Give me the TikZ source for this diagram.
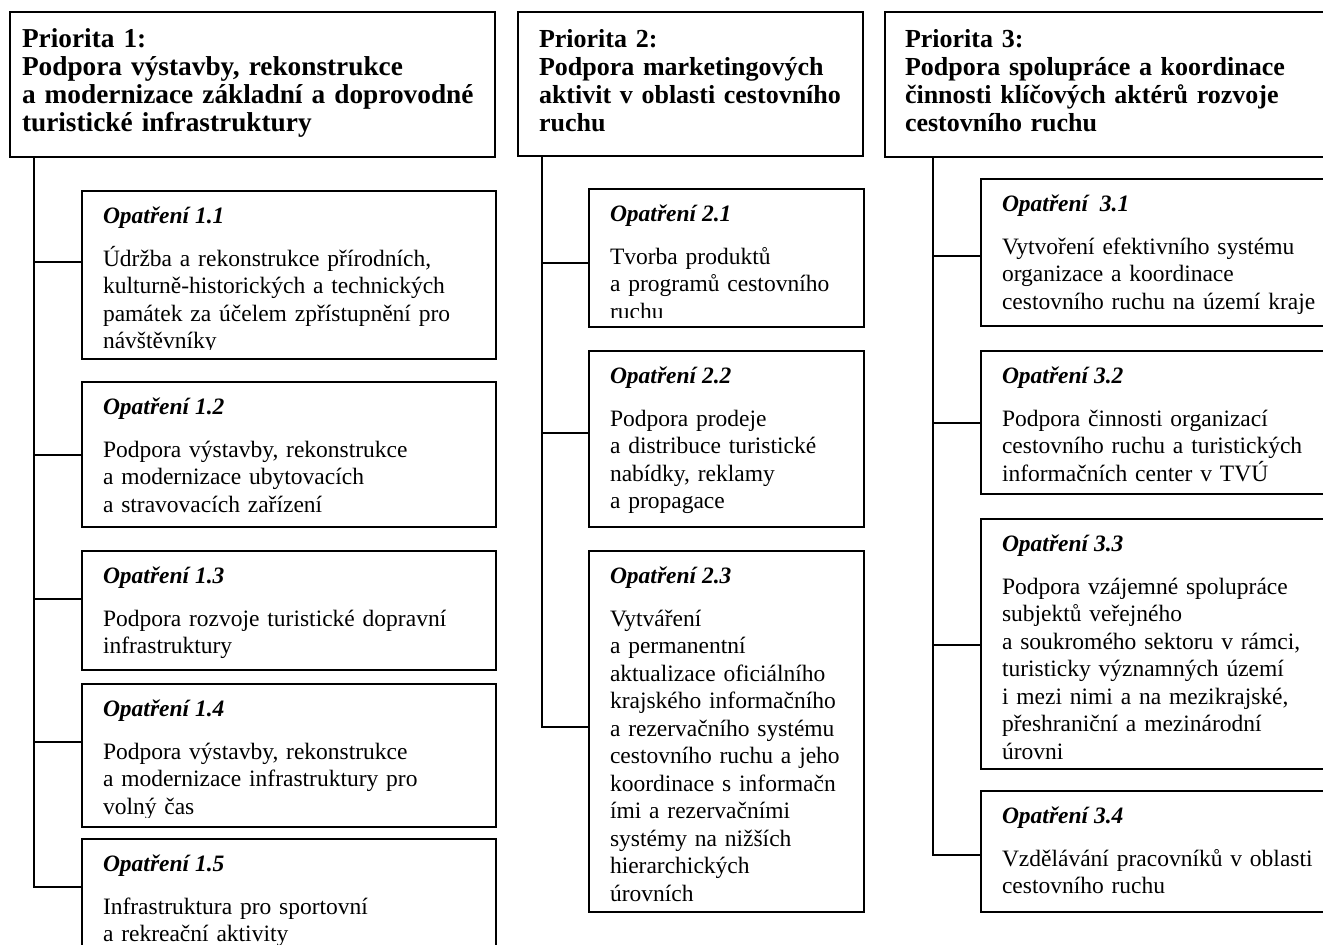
\documentclass[tikz,border=0pt]{standalone}
\usepackage{fontspec}
\setmainfont{Liberation Serif}
\begin{document}
\begin{tikzpicture}[x=1pt,y=-1pt, line width=1.5pt,
  every node/.style={inner sep=0pt, outer sep=0pt},
  box/.style={draw, line width=1.6pt, rectangle, anchor=north west},
  ptitle/.style={anchor=base west, align=left, text width=470pt,
    font=\fontsize{26}{28.3}\selectfont\bfseries},
  mhead/.style={draw=none, minimum width=0pt, minimum height=0pt, anchor=base west,
    font=\fontsize{23.5}{27.5}\selectfont\bfseries\itshape},
  mbody/.style={draw=none, minimum width=0pt, minimum height=0pt, anchor=base west,
    align=left, text width=400pt, font=\fontsize{23.5}{27.5}\selectfont},
  mbox/.style 2 args={box, path picture={
    \clip (path picture bounding box.north west) rectangle ([yshift=10pt]path picture bounding box.south east);
    \node[mhead] at ([shift={(21,32)}]path picture bounding box.north west) {#1};
    \node[mbody] at ([shift={(21,75)}]path picture bounding box.north west) {#2};}}]

\useasboundingbox (0,0) rectangle (1323,945);

% Priorities
\node[box, minimum width=485, minimum height=145] (p1) at (10,12) {};
\node[box, minimum width=345, minimum height=144] (p2) at (518,12) {};
\node[box, minimum width=460, minimum height=145] (p3) at (885,12) {};
\node[ptitle, font=\fontsize{27.3}{28.3}\selectfont\bfseries] (p1t) at ([shift={(12,35)}]p1.north west) {Priorita 1:\\Podpora výstavby, rekonstrukce\\a modernizace základní a doprovodné\\turistické infrastruktury};
\node[ptitle] (p2t) at ([shift={(21,35)}]p2.north west) {Priorita 2:\\Podpora marketingových\\aktivit v oblasti cestovního\\ruchu};
\node[ptitle] (p3t) at ([shift={(20,35)}]p3.north west) {Priorita 3:\\Podpora spolupráce a koordinace\\činnosti klíčových aktérů rozvoje\\cestovního ruchu};

% Column 1
\node[mbox={Opatření 1.1}{Údržba a rekonstrukce přírodních,\\kulturně-historických a technických\\památek za účelem zpřístupnění pro\\návštěvníky},
  minimum width=414, minimum height=168] (m11) at (82,191) {};
\node[mbox={Opatření 1.2}{Podpora výstavby, rekonstrukce\\a modernizace ubytovacích\\a stravovacích zařízení},
  minimum width=414, minimum height=145] (m12) at (82,382) {};
\node[mbox={Opatření 1.3}{Podpora rozvoje turistické dopravní\\infrastruktury},
  minimum width=414, minimum height=119] (m13) at (82,551) {};
\node[mbox={Opatření 1.4}{Podpora výstavby, rekonstrukce\\a modernizace infrastruktury pro\\volný čas},
  minimum width=414, minimum height=143] (m14) at (82,684) {};
\node[mbox={Opatření 1.5}{Infrastruktura pro sportovní\\a rekreační aktivity},
  minimum width=414, minimum height=130] (m15) at (82,839) {};

% Column 2
\node[mbox={Opatření 2.1}{Tvorba produktů\\a programů cestovního\\ruchu},
  minimum width=275, minimum height=138] (m21) at (589,189) {};
\node[mbox={Opatření 2.2}{Podpora prodeje\\a distribuce turistické\\nabídky, reklamy\\a propagace},
  minimum width=275, minimum height=176] (m22) at (589,351) {};
\node[mbox={Opatření 2.3}{Vytváření\\a permanentní\\aktualizace oficiálního\\krajského informačního\\a rezervačního systému\\cestovního ruchu a jeho\\koordinace s informačn\\ími a rezervačními\\systémy na nižších\\hierarchických\\úrovních},
  minimum width=275, minimum height=361] (m23) at (589,551) {};

% Column 3
\node[mbox={Opatření\ \ 3.1}{Vytvoření efektivního systému\\organizace a koordinace\\cestovního ruchu na území kraje},
  minimum width=370, minimum height=147] (m31) at (981,179) {};
\node[mbox={Opatření 3.2}{Podpora činnosti organizací\\cestovního ruchu a turistických\\informačních center v TVÚ},
  minimum width=370, minimum height=143] (m32) at (981,351) {};
\node[mbox={Opatření 3.3}{Podpora vzájemné spolupráce\\subjektů veřejného\\a soukromého sektoru v rámci,\\turisticky významných území\\i mezi nimi a na mezikrajské,\\přeshraniční a mezinárodní\\úrovni},
  minimum width=370, minimum height=250] (m33) at (981,519) {};
\node[mbox={Opatření 3.4}{Vzdělávání pracovníků v oblasti\\cestovního ruchu},
  minimum width=370, minimum height=121] (m34) at (981,791) {};

% Trunks and joints
\coordinate (t1) at ([xshift=24pt]p1.south west);
\coordinate (t2) at ([xshift=24pt]p2.south west);
\coordinate (t3) at ([xshift=48pt]p3.south west);
\coordinate (c11) at ([yshift=-71pt]m11.north west);
\coordinate (c12) at ([yshift=-73pt]m12.north west);
\coordinate (c13) at ([yshift=-48pt]m13.north west);
\coordinate (c14) at ([yshift=-58pt]m14.north west);
\coordinate (c15) at ([yshift=-48pt]m15.north west);
\coordinate (c21) at ([yshift=-74pt]m21.north west);
\coordinate (c22) at ([yshift=-82pt]m22.north west);
\coordinate (c23) at ([yshift=-176pt]m23.north west);
\coordinate (c31) at ([yshift=-77pt]m31.north west);
\coordinate (c32) at ([yshift=-72pt]m32.north west);
\coordinate (c33) at ([yshift=-126pt]m33.north west);
\coordinate (c34) at ([yshift=-64pt]m34.north west);

% Connectors
\draw (t1) |- (c15);
\draw (t1 |- c11) -- (c11);
\draw (t1 |- c12) -- (c12);
\draw (t1 |- c13) -- (c13);
\draw (t1 |- c14) -- (c14);
\draw (t2) |- (c23);
\draw (t2 |- c21) -- (c21);
\draw (t2 |- c22) -- (c22);
\draw (t3) |- (c34);
\draw (t3 |- c31) -- (c31);
\draw (t3 |- c32) -- (c32);
\draw (t3 |- c33) -- (c33);

\end{tikzpicture}
\end{document}
